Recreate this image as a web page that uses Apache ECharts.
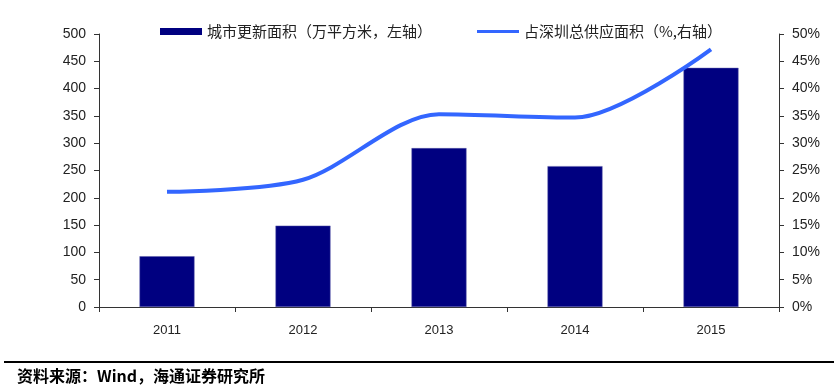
<!DOCTYPE html>
<html>
<head>
<meta charset="utf-8">
<script src="https://cdn.jsdelivr.net/npm/echarts@6/dist/echarts.min.js"></script>
<style>
html,body{margin:0;padding:0;background:#fff;}
#c{width:834px;height:392px;}
</style>
</head>
<body>
<div id="c"></div>
<script>
var categories = ['2011', '2012', '2013', '2014', '2015'];
var renewalArea = [93, 149, 291, 258, 438];
var shareOfSupply = [21.1, 23.3, 35.3, 34.7, 47.2];
var barName = '城市更新面积（万平方米，左轴）';
var lineName = '占深圳总供应面积（%,右轴）';
var sourceText = '资料来源：Wind，海通证券研究所';

var chart = echarts.init(document.getElementById('c'), null, {renderer: 'canvas'});
var axisColor = '#333';
var textColor = '#222';
chart.setOption({
  animation: false,
  backgroundColor: '#fff',
  grid: {left: 99, right: 55, top: 34, bottom: 85, containLabel: false},
  legend: [
    {data: [{name: barName, icon: 'rect', itemStyle: {borderWidth: 0}}], left: 160, top: 24, padding: 0, itemWidth: 42, itemHeight: 7,
     textStyle: {fontFamily: 'Noto Sans CJK SC', fontSize: 15, color: textColor}},
    {data: [{name: lineName, icon: 'rect'}], left: 477, top: 24, padding: 0, itemWidth: 42, itemHeight: 3,
     textStyle: {fontFamily: 'Noto Sans CJK SC', fontSize: 15, color: textColor}}
  ],
  xAxis: {
    type: 'category', data: categories,
    axisLine: {lineStyle: {color: axisColor}},
    axisTick: {show: true, length: 5, lineStyle: {color: axisColor}},
    axisLabel: {margin: 17, fontFamily: 'Liberation Sans', fontSize: 13, color: textColor}
  },
  yAxis: [
    {type: 'value', min: 0, max: 500, interval: 50,
     axisLine: {show: true, lineStyle: {color: axisColor}},
     axisTick: {show: true, length: 5, lineStyle: {color: axisColor}},
     splitLine: {show: false},
     axisLabel: {margin: 13, fontFamily: 'Liberation Sans', fontSize: 14, color: textColor}},
    {type: 'value', min: 0, max: 50, interval: 5, position: 'right',
     axisLine: {show: true, lineStyle: {color: axisColor}},
     axisTick: {show: true, length: 5, lineStyle: {color: axisColor}},
     splitLine: {show: false},
     axisLabel: {margin: 13, fontFamily: 'Liberation Sans', fontSize: 14, color: textColor, formatter: '{value}%'}}
  ],
  series: [
    {name: barName, type: 'bar', data: renewalArea, yAxisIndex: 0, barWidth: 55,
     itemStyle: {color: '#000080', borderColor: '#5a5aa8', borderWidth: 0.5}},
    {name: lineName, type: 'line', data: shareOfSupply, yAxisIndex: 1, smooth: 0.3,
     symbol: 'none', lineStyle: {color: '#3366ff', width: 4},
     itemStyle: {color: '#3366ff'}}
  ],
  graphic: [
    {type: 'rect', left: 4, top: 361, shape: {width: 830, height: 2}, style: {fill: '#000'}},
    {type: 'text', left: 17, top: 368, style: {text: sourceText, fill: '#000',
      font: 'bold 16px "Noto Sans CJK SC", sans-serif'}}
  ]
});
</script>
</body>
</html>
